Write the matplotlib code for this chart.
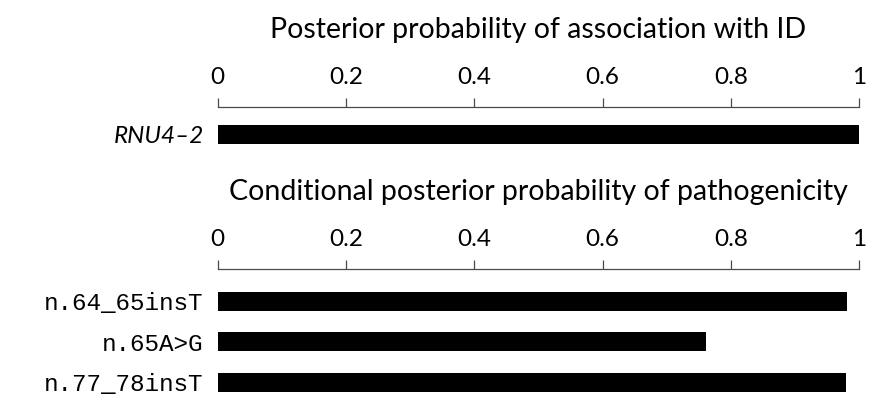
import numpy as np
import matplotlib
matplotlib.use('Agg')
import matplotlib.pyplot as plt

# data
gene_labels = ['RNU4\u20132']
gene_probs = [1.0]
variant_labels = ['n.64_65insT', 'n.65A>G', 'n.77_78insT']
variant_probs = [0.981, 0.761, 0.980]
xticks = [0, 0.2, 0.4, 0.6, 0.8, 1]
xtick_labels = ['0', '0.2', '0.4', '0.6', '0.8', '1']

W, H = 883, 417
SANS = 'Lato'
MONO = 'Liberation Mono'
SPINE = '#4a4a4a'


def px_axes(fig, left, top, right, bottom):
    """add axes from pixel coords measured from the top left corner"""
    return fig.add_axes([left / W, 1 - bottom / H,
                         (right - left) / W, (bottom - top) / H])


def style_axis(ax, title):
    ax.set_xlim(0, 1)
    ax.xaxis.tick_top()
    ax.set_xticks(xticks)
    ax.set_xticklabels(xtick_labels, fontfamily=SANS, fontsize=17.5)
    ax.tick_params(axis='x', direction='out', length=6.5, width=0.9,
                   color=SPINE, pad=7)
    ax.tick_params(axis='y', length=0, pad=10)
    for side in ['right', 'bottom', 'left']:
        ax.spines[side].set_visible(False)
    ax.spines['top'].set_color(SPINE)
    ax.spines['top'].set_linewidth(0.9)
    ax.set_title(title, fontfamily=SANS, fontsize=20.5, pad=50)


fig = plt.figure(figsize=(W / 100, H / 100), dpi=100)

ax0 = px_axes(fig, 217.7, 107, 859.3, 162)
ax0.barh(np.arange(len(gene_probs)), gene_probs, height=0.47,
         color='black', align='center')
ax0.set_ylim(0.68, -0.68)
ax0.set_yticks(np.arange(len(gene_labels)))
ax0.set_yticklabels(gene_labels, fontfamily=SANS, fontstyle='italic',
                    fontsize=17.5)
style_axis(ax0, 'Posterior probability of association with ID')

ax1 = px_axes(fig, 217.7, 269, 859.3, 414.5)
ax1.barh(np.arange(len(variant_probs)), variant_probs, height=0.47,
         color='black', align='center')
ax1.set_ylim(2.79, -0.79)
ax1.set_yticks(np.arange(len(variant_labels)))
ax1.set_yticklabels(variant_labels, fontfamily=MONO, fontsize=17.5)
style_axis(ax1, 'Conditional posterior probability of pathogenicity')

fig.savefig('out.png', dpi=100)
